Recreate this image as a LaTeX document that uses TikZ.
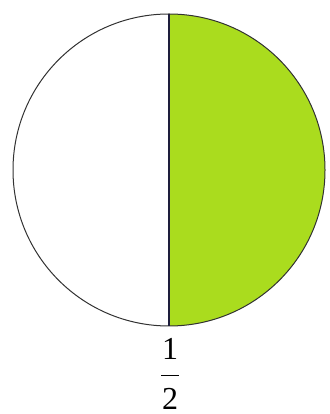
\documentclass[tikz,border=0pt]{standalone}
\usepackage{fontspec}
\setmainfont{Liberation Serif}
\definecolor{halfgreen}{RGB}{170,220,30}
\definecolor{rimgray}{RGB}{50,50,50}
\definecolor{midline}{RGB}{30,30,60}
\tikzset{
  rim/.style={draw=rimgray, line width=1pt},
  divider/.style={draw=midline, line width=1.2pt},
  numtext/.style={font=\fontsize{32}{32}\selectfont, inner sep=0pt, anchor=base},
}
\begin{document}
\begin{tikzpicture}[x=1pt,y=1pt]
\useasboundingbox (0,0) rectangle (329,414);
\coordinate (c) at (169,244);
\coordinate (top) at (169,400);
\coordinate (bot) at (169,88);
\fill[halfgreen] (top) arc (90:-90:156) -- cycle;
\draw[rim] (c) circle (156);
\draw[divider] (top) -- (bot);
\node[numtext] (num) at (170,54) {1};
\coordinate (barl) at (161,38.5);
\coordinate (barr) at (179,38.5);
\draw[line width=1.4pt, black] (barl) -- (barr);
\node[numtext] (den) at (170,5) {2};
\end{tikzpicture}
\end{document}
